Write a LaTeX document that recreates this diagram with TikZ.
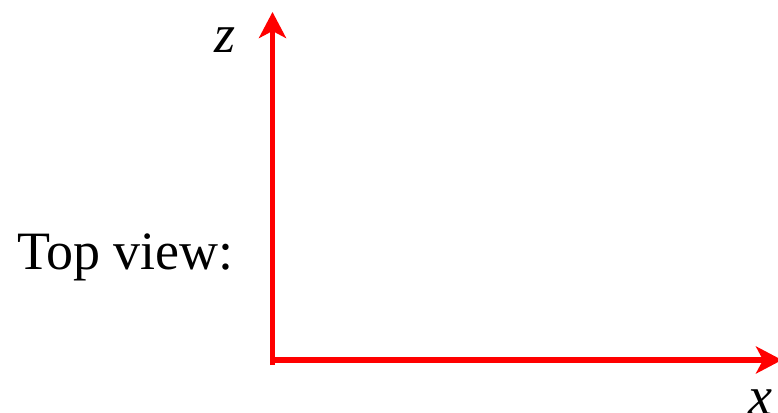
\documentclass[tikz,border=0pt]{standalone}
\usepackage{fontspec}
\setmainfont{Liberation Serif}
\usetikzlibrary{arrows.meta}
\begin{document}
\begin{tikzpicture}[x=1pt,y=1pt,
  axis/.style={draw=red,line width=5.5pt,-{Stealth[length=26pt,width=27pt,inset=7pt]}},
  lbl/.style={inner sep=0pt,anchor=base west,font=\fontsize{54}{60}\selectfont}]
\useasboundingbox (0,0) rectangle (778,412);
\coordinate (o) at (272.5,47);
\coordinate (zt) at (272.5,400);
\coordinate (h) at (270,52);
\coordinate (xt) at (782,52);
\draw[axis] (o) -- (zt);
\draw[axis] (h) -- (xt);
\node[lbl] (z) at (214,359) {\itshape z};
\node[lbl] (x) at (748,-2) {\itshape x};
\node[lbl,font=\fontsize{54}{60}\selectfont] (tv) at (17,142) {Top view:};
\end{tikzpicture}
\end{document}
